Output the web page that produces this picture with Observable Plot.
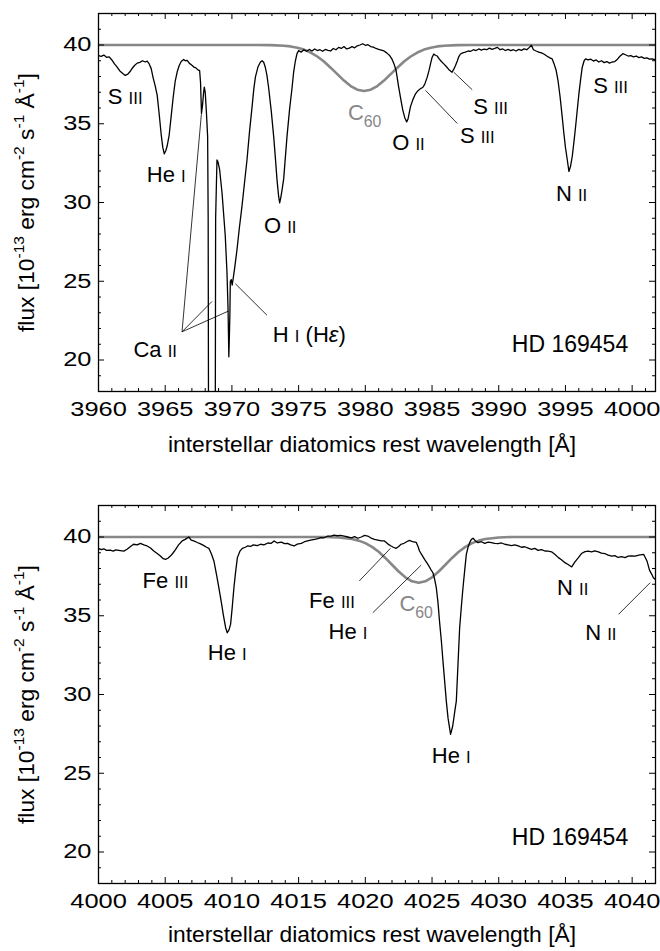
<!DOCTYPE html>
<html><head><meta charset="utf-8">
<script src="https://cdn.jsdelivr.net/npm/d3@7"></script>
<script src="https://cdn.jsdelivr.net/npm/@observablehq/plot@0.6"></script>
<style>
body{margin:0;background:#fff;}
#chart{width:660px;}
svg{display:block;}
</style></head><body><div id="chart"></div>
<script>
// ---------------- DATA ----------------
// Top panel spectrum: wavelength [Å], flux [1e-13 erg cm-2 s-1 Å-1]
const topWave = [3960.0,3960.2,3960.4,3960.6,3960.8,3961.0,3961.2,3961.4,3961.6,3961.8,3962.0,3962.2,3962.35,3962.5,3962.7,3962.9,3963.1,3963.3,3963.5,3963.65,3963.8,3963.95,3964.1,3964.25,3964.4,3964.55,3964.7,3964.82,3964.93,3965.05,3965.15,3965.3,3965.45,3965.6,3965.75,3965.9,3966.05,3966.2,3966.38,3966.5,3966.65,3966.8,3967.0,3967.15,3967.3,3967.45,3967.58,3967.65,3967.72,3967.8,3967.88,3967.93,3968.0,3968.08,3968.18,3968.22,3968.26,3968.74,3968.78,3968.88,3968.95,3969.08,3969.26,3969.5,3969.63,3969.71,3969.77,3969.81,3969.85,3969.88,3969.95,3970.02,3970.1,3970.2,3970.38,3970.56,3970.76,3970.95,3971.13,3971.32,3971.51,3971.64,3971.76,3971.95,3972.13,3972.26,3972.38,3972.5,3972.62,3972.75,3972.95,3973.13,3973.26,3973.38,3973.5,3973.58,3973.66,3973.76,3973.88,3974.0,3974.13,3974.32,3974.51,3974.63,3974.76,3974.88,3975.0,3975.2,3975.4,3975.6,3975.8,3976.0,3976.2,3976.4,3976.6,3976.8,3977.0,3977.2,3977.4,3977.6,3977.8,3978.0,3978.2,3978.4,3978.6,3978.8,3979.0,3979.2,3979.4,3979.6,3979.8,3980.0,3980.2,3980.4,3980.6,3980.8,3981.0,3981.2,3981.4,3981.6,3981.8,3982.0,3982.15,3982.3,3982.5,3982.65,3982.8,3982.95,3983.1,3983.2,3983.38,3983.55,3983.76,3983.95,3984.13,3984.3,3984.45,3984.64,3984.78,3984.9,3985.0,3985.13,3985.25,3985.39,3985.55,3985.7,3985.88,3986.05,3986.25,3986.5,3986.62,3986.76,3986.9,3987.0,3987.13,3987.3,3987.5,3987.7,3987.9,3988.1,3988.3,3988.5,3988.7,3988.9,3989.1,3989.3,3989.5,3989.7,3989.9,3990.1,3990.3,3990.5,3990.7,3990.9,3991.1,3991.3,3991.5,3991.7,3991.9,3992.1,3992.3,3992.45,3992.6,3992.8,3993.0,3993.2,3993.38,3993.6,3993.8,3994.0,3994.15,3994.3,3994.45,3994.6,3994.75,3994.88,3995.0,3995.14,3995.26,3995.38,3995.51,3995.63,3995.76,3995.9,3996.01,3996.15,3996.26,3996.4,3996.51,3996.7,3996.9,3997.1,3997.3,3997.5,3997.7,3997.9,3998.1,3998.3,3998.5,3998.7,3998.9,3999.1,3999.3,3999.5,3999.7,3999.9,4000.1,4000.3,4000.5,4000.7,4000.9,4001.1,4001.3,4001.5,4001.75];
const topFlux = [39.33,39.28,39.36,39.22,39.25,39.05,38.8,38.6,38.35,38.2,38.07,38.15,38.3,38.49,38.7,38.85,38.9,39.0,38.92,38.97,38.8,38.5,37.9,37.4,36.8,35.6,34.3,33.5,33.09,33.3,33.6,34.3,35.5,36.7,37.7,38.3,38.7,38.95,39.08,39.0,39.02,38.85,38.72,38.6,38.55,38.42,38.38,37.6,35.65,36.2,37.0,37.33,37.0,35.86,34.2,29,10,10,29,32.7,32.6,32.08,30.6,27.9,25.57,23.26,20.2,21.5,23.0,25.0,25.1,24.75,25.2,25.8,27.0,28.4,29.8,31.3,32.7,34.5,36.07,37.2,37.96,38.6,38.9,39.0,38.9,38.6,38.1,37.3,35.8,34.2,32.8,31.45,30.4,29.98,30.3,30.8,31.5,32.8,34.2,35.9,37.3,38.3,39.0,39.45,39.64,39.55,39.7,39.6,39.72,39.62,39.75,39.65,39.7,39.6,39.72,39.66,39.62,39.78,39.7,39.85,39.78,39.9,39.75,39.8,39.9,39.82,39.95,40.0,40.08,39.98,40.02,39.9,39.86,39.78,39.72,39.68,39.62,39.5,39.35,39.1,38.8,38.4,37.33,36.6,35.9,35.4,35.12,35.3,36.07,36.5,36.9,37.1,37.23,37.3,37.5,37.96,38.4,38.85,39.2,39.43,39.35,39.3,39.1,38.95,38.8,38.65,38.45,38.27,38.45,38.7,39.0,39.25,39.43,39.5,39.55,39.62,39.6,39.7,39.65,39.75,39.68,39.74,39.7,39.8,39.72,39.78,39.85,39.7,39.75,39.65,39.72,39.64,39.7,39.62,39.72,39.66,39.75,39.7,39.85,39.98,39.7,39.62,39.55,39.5,39.43,39.3,39.2,39.12,38.8,38.4,37.7,36.7,35.5,34.4,33.5,32.7,31.97,32.3,32.92,33.8,34.81,36.0,36.91,37.9,38.59,39.0,39.12,39.05,39.1,38.98,39.05,38.92,39.0,38.88,38.95,38.85,38.92,38.95,39.1,39.3,39.45,39.38,39.3,39.33,39.25,39.3,39.2,39.25,39.15,39.18,39.1,39.12,39.05];

// Top panel C60 model curve
const topC60Wave = [3960,3971.9,3972.9,3973.9,3974.4,3974.9,3975.4,3975.9,3976.4,3976.9,3977.4,3977.9,3978.4,3978.9,3979.4,3979.9,3980.4,3980.9,3981.4,3981.9,3982.4,3982.9,3983.4,3983.9,3984.4,3984.9,3985.4,3985.9,3986.9,3987.9,4001.75];
const topC60Flux = [40,40,39.99,39.95,39.91,39.83,39.71,39.52,39.27,38.95,38.56,38.15,37.74,37.39,37.16,37.08,37.16,37.39,37.74,38.15,38.56,38.95,39.27,39.52,39.71,39.83,39.91,39.95,39.99,40,40];

// Bottom panel spectrum
const botWave = [4000.0,4000.2,4000.4,4000.6,4000.88,4001.1,4001.3,4001.63,4001.9,4002.14,4002.4,4002.63,4002.9,4003.14,4003.4,4003.64,4003.9,4004.14,4004.4,4004.64,4004.85,4005.02,4005.2,4005.39,4005.6,4005.77,4006.0,4006.27,4006.5,4006.77,4006.95,4007.14,4007.4,4007.65,4007.9,4008.1,4008.27,4008.45,4008.65,4008.85,4009.02,4009.2,4009.35,4009.53,4009.65,4009.78,4009.9,4010.02,4010.15,4010.28,4010.41,4010.6,4010.78,4011.0,4011.16,4011.4,4011.6,4011.9,4012.16,4012.4,4012.7,4012.95,4013.16,4013.4,4013.7,4013.95,4014.17,4014.4,4014.66,4014.9,4015.2,4015.45,4015.67,4015.9,4016.2,4016.45,4016.67,4016.9,4017.15,4017.42,4017.65,4017.9,4018.15,4018.42,4018.7,4018.95,4019.2,4019.43,4019.7,4019.95,4020.18,4020.4,4020.68,4020.95,4021.2,4021.43,4021.7,4021.93,4022.1,4022.31,4022.5,4022.68,4022.9,4023.1,4023.31,4023.55,4023.81,4023.95,4024.06,4024.25,4024.44,4024.69,4024.9,4025.07,4025.2,4025.32,4025.45,4025.56,4025.7,4025.82,4025.95,4026.07,4026.2,4026.39,4026.55,4026.7,4026.82,4026.95,4027.07,4027.2,4027.32,4027.45,4027.57,4027.7,4027.82,4027.95,4028.08,4028.25,4028.45,4028.7,4028.95,4029.2,4029.45,4029.7,4029.95,4030.2,4030.45,4030.7,4030.95,4031.2,4031.46,4031.7,4031.95,4032.2,4032.46,4032.7,4032.95,4033.2,4033.46,4033.7,4033.96,4034.2,4034.47,4034.7,4034.96,4035.2,4035.47,4035.7,4035.97,4036.2,4036.47,4036.7,4036.95,4037.2,4037.47,4037.7,4037.95,4038.2,4038.47,4038.7,4038.95,4039.2,4039.47,4039.7,4039.95,4040.23,4040.5,4040.86,4041.11,4041.3,4041.47,4041.6,4041.73,4041.75];
const botFlux = [39.28,39.2,39.25,39.15,39.16,39.1,39.18,39.14,39.1,39.22,39.4,39.54,39.5,39.6,39.5,39.43,39.3,39.11,38.95,38.79,38.62,38.58,38.65,38.79,39.0,39.2,39.5,39.75,39.85,40.0,39.8,39.75,39.65,39.56,39.45,39.35,39.28,38.95,38.48,37.6,36.78,35.9,35.09,34.24,33.92,34.1,34.45,35.5,36.78,37.8,38.69,39.1,39.28,39.35,39.43,39.4,39.5,39.45,39.54,39.5,39.62,39.6,39.75,39.62,39.68,39.58,39.6,39.5,39.43,39.55,39.6,39.7,39.75,39.8,39.85,39.9,39.96,39.95,40.05,40.06,40.12,40.08,40.1,40.06,40.0,39.95,40.02,39.92,40.0,40.1,40.06,39.95,39.85,39.8,39.75,39.75,39.55,39.43,39.35,39.28,39.4,39.54,39.6,39.7,39.79,39.7,39.66,39.4,39.11,38.85,38.58,38.26,37.95,37.73,37.3,36.78,35.8,34.66,33.4,32.12,30.8,29.58,28.5,27.47,28.0,28.9,29.58,32.0,34.24,35.6,36.78,37.9,38.9,39.35,39.64,39.85,39.92,39.75,39.64,39.7,39.6,39.68,39.64,39.6,39.58,39.62,39.54,39.5,39.45,39.5,39.43,39.35,39.38,39.3,39.22,39.28,39.15,39.2,39.11,39.1,39.06,38.9,38.69,38.55,38.37,38.25,38.1,38.4,38.69,38.95,39.07,39.1,39.05,39.12,39.06,38.98,38.95,38.85,38.79,38.82,38.7,38.75,38.69,38.78,38.8,38.79,38.85,38.9,38.48,37.9,37.63,37.4,37.31,37.4];

// Bottom panel C60 model curve
const botC60Wave = [4000,4017,4018,4018.5,4019,4019.5,4020,4020.5,4021,4021.5,4022,4022.5,4023,4023.5,4024,4024.5,4025,4025.5,4026,4026.5,4027,4027.5,4028,4028.5,4029,4030,4031,4041.75];
const botC60Flux = [40,40,39.97,39.93,39.87,39.77,39.61,39.37,39.06,38.67,38.24,37.81,37.44,37.19,37.1,37.19,37.44,37.81,38.24,38.67,39.06,39.37,39.61,39.77,39.87,39.97,40,40];

// Line identifications (text, wavelength, flux of label centre)
const topLabelText = ["S {s:III}","He {s:I}","O {s:II}","Ca {s:II}","H {s:I} (H{i:ε})","O {s:II}","S {s:III}","S {s:III}","N {s:II}","S {s:III}"];
const topLabelWave = [3962.0,3965.08,3973.62,3964.25,3975.8,3983.23,3988.39,3989.39,3995.46,3998.38];
const topLabelFlux = [36.68,31.78,28.5,20.63,21.58,33.81,34.23,36.07,30.57,37.38];
const botLabelText = ["Fe {s:III}","He {s:I}","Fe {s:III}","He {s:I}","He {s:I}","N {s:II}","N {s:II}"];
const botLabelWave = [4005.02,4009.65,4017.5,4018.7,4026.44,4035.54,4037.65];
const botLabelFlux = [37.21,32.65,35.94,33.99,26.1,36.78,33.92];
const c60Label = "C{sub:60}";
const topC60LabelAt = [3979.95, 35.67];
const botC60LabelAt = [4023.81, 35.73];
const starName = "HD 169454";
const topStarAt = [3995.34, 21.0];
const botStarAt = [4035.34, 20.91];

// Pointer lines [wave1, flux1, wave2, flux2]
const topPointers = [
  [3966.26,21.79,3967.71,35.6],
  [3966.26,21.79,3968.51,23.72],
  [3966.26,21.79,3969.75,23.11],
  [3970.26,24.84,3972.63,22.84],
  [3984.51,37.12,3986.89,35.02],
  [3986.63,38.27,3988.01,37.16]
];
const botPointers = [
  [4019.55,37.21,4021.88,39.28],
  [4020.56,35.19,4024.19,38.22],
  [4038.98,35.09,4041.35,37.1]
];

const topXTicks = [3960,3965,3970,3975,3980,3985,3990,3995,4000];
const botXTicks = [4000,4005,4010,4015,4020,4025,4030,4035,4040];
const yTicks = [20,25,30,35,40];
const topDomain = [3960, 4001.75];
const botDomain = [4000, 4041.75];
const yDomain = [18, 42];
const xLabel = "interstellar diatomics rest wavelength [Å]";
const yLabel = "flux [10{sup:-13} erg cm{sup:-2} s{sup:-1} Å{sup:-1}]";

// ---------------- DRAWING ----------------
const W = 660, ML = 98, MR = 5, MT = 13, PH = 378;
const PW = W - ML - MR;
const GRAY = "#878787";
const FONT = "'Liberation Sans', Arial, Helvetica, sans-serif";
const TICK_FS = 20, TICK_STRETCH = 1.27;

function zip(a, b) { return a.map((v, i) => ({x: v, y: b[i]})); }

function panel(o) {
  const spec = zip(o.wave, o.flux);
  const c60 = zip(o.c60w, o.c60f);
  const labels = o.lt.map((t, i) => ({t, x: o.lw[i], y: o.lf[i]}));
  const majorX = o.xticks;
  const minorX = d3.range(Math.ceil(o.domain[0]), o.domain[1] + 1e-9, 1).filter(v => v % 5 !== 0);
  const minorY = d3.range(yDomain[0], yDomain[1] + 1e-9, 1).filter(v => v % 5 !== 0);
  const majorY = yTicks;
  const tk = {stroke: "black", strokeWidth: 1};
  return Plot.plot({
    width: W, height: o.height,
    marginLeft: ML, marginRight: MR, marginTop: MT, marginBottom: o.marginBottom,
    x: {domain: o.domain},
    y: {domain: yDomain},
    style: {fontFamily: FONT, fontSize: "22px", background: "white", color: "black", overflow: "visible"},
    marks: [
      Plot.line(c60, {x: "x", y: "y", stroke: GRAY, strokeWidth: 2.6, clip: true}),
      Plot.line(spec, {x: "x", y: "y", stroke: "black", strokeWidth: 1.3, clip: true}),
      Plot.link(o.pointers, {x1: d => d[0], y1: d => d[1], x2: d => d[2], y2: d => d[3], stroke: "black", strokeWidth: 0.8}),
      Plot.text(labels, {x: "x", y: "y", text: "t", fill: "black", fontSize: 22}),
      Plot.text([c60Label], {x: () => o.c60At[0], y: () => o.c60At[1], text: d => d, fill: GRAY, fontSize: 22}),
      Plot.text([starName], {x: () => o.starAt[0], y: () => o.starAt[1], text: d => d, fill: "black", fontSize: 23}),
      // ticks (inward, all four sides)
      Plot.ruleX(majorX, {x: d => d, insetBottom: PH - 6, ...tk}),
      Plot.ruleX(majorX, {x: d => d, insetTop: PH - 6, ...tk}),
      Plot.ruleX(minorX, {x: d => d, insetBottom: PH - 3, ...tk}),
      Plot.ruleX(minorX, {x: d => d, insetTop: PH - 3, ...tk}),
      Plot.ruleY(majorY, {y: d => d, insetRight: PW - 6, ...tk}),
      Plot.ruleY(majorY, {y: d => d, insetLeft: PW - 6, ...tk}),
      Plot.ruleY(minorY, {y: d => d, insetRight: PW - 3, ...tk}),
      Plot.ruleY(minorY, {y: d => d, insetLeft: PW - 3, ...tk}),
      Plot.frame({stroke: "black", strokeWidth: 1.3}),
      Plot.axisX({ticks: majorX, tickSize: 0, tickPadding: 10, tickFormat: d3.format("d"), label: null, fontSize: TICK_FS}),
      Plot.axisY({ticks: majorY, tickSize: 0, tickPadding: 7, tickFormat: d3.format("d"), label: null, fontSize: TICK_FS}),
      Plot.text([xLabel], {frameAnchor: "bottom", text: d => d, dy: o.xlabelDy, dx: -5, fontSize: 22.8, fill: "black"}),
      Plot.text([yLabel], {frameAnchor: "left", textAnchor: "middle", text: d => d, rotate: -90, dx: -72, fontSize: 22.8, fill: "black"})
    ]
  });
}

// horizontally stretch tick labels (the reference uses a wide numeral face)
function stretchTicks(svg) {
  svg.querySelectorAll('g[aria-label="x-axis tick label"] text, g[aria-label="y-axis tick label"] text').forEach(t => {
    t.style.fontSize = TICK_FS + "px";
    const tr = t.getAttribute("transform");
    if (tr) t.setAttribute("transform", tr + ` scale(${TICK_STRETCH},1)`);
    else {
      const x = +t.getAttribute("x") || 0;
      t.setAttribute("transform", `translate(${x},0) scale(${TICK_STRETCH},1) translate(${-x},0)`);
    }
  });
}

function rich(svg) {
  svg.querySelectorAll("text").forEach(t => {
    const s = t.textContent;
    if (!s.includes("{")) return;
    const fs = parseFloat(getComputedStyle(t).fontSize) || 22;
    while (t.firstChild) t.removeChild(t.firstChild);
    const re = /\{(s|i|sub|sup):([^}]*)\}/g;
    let last = 0, m, shift = 0;
    const add = (txt, kind) => {
      const ts = document.createElementNS("http://www.w3.org/2000/svg", "tspan");
      let target = 0, size = null;
      if (kind === "s") size = 0.76;
      if (kind === "sub") { size = 0.72; target = 0.32 * fs; }
      if (kind === "sup") { size = 0.68; target = -0.42 * fs; }
      if (kind === "i") ts.setAttribute("font-style", "italic");
      if (size) ts.setAttribute("font-size", (size * fs) + "px");
      if (target !== shift) { ts.setAttribute("dy", (target - shift) + "px"); shift = target; }
      ts.textContent = txt;
      t.appendChild(ts);
    };
    while ((m = re.exec(s))) {
      if (m.index > last) add(s.slice(last, m.index), null);
      add(m[2], m[1]);
      last = re.lastIndex;
    }
    if (last < s.length) add(s.slice(last), null);
  });
}

const chart = document.getElementById("chart");
const top1 = panel({domain: topDomain, wave: topWave, flux: topFlux, c60w: topC60Wave, c60f: topC60Flux,
  lt: topLabelText, lw: topLabelWave, lf: topLabelFlux, c60At: topC60LabelAt, starAt: topStarAt,
  pointers: topPointers, xticks: topXTicks, height: 492, marginBottom: 101, xlabelDy: 60});
const bot1 = panel({domain: botDomain, wave: botWave, flux: botFlux, c60w: botC60Wave, c60f: botC60Flux,
  lt: botLabelText, lw: botLabelWave, lf: botLabelFlux, c60At: botC60LabelAt, starAt: botStarAt,
  pointers: botPointers, xticks: botXTicks, height: 459, marginBottom: 68, xlabelDy: 58});
chart.appendChild(top1);
chart.appendChild(bot1);
[top1, bot1].forEach(s => { stretchTicks(s); rich(s); });
</script></body></html>
